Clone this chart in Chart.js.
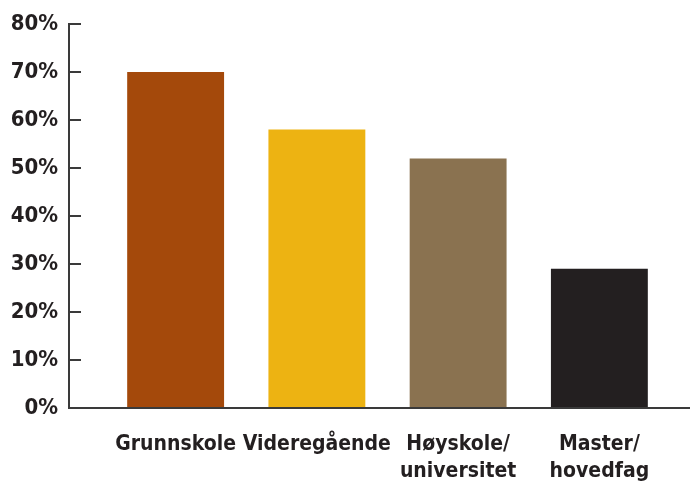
<!DOCTYPE html>
<html>
<head>
<meta charset="utf-8">
<style>
  html, body { margin: 0; padding: 0; background: #ffffff; }
  #wrap { width: 690px; height: 488px; }
</style>
<script src="https://cdn.jsdelivr.net/npm/chart.js@4.4.1/dist/chart.umd.min.js"></script>
</head>
<body>
<div id="wrap"><canvas id="chart" width="690" height="488"></canvas></div>
<script>
// Education level categories (multi-line labels as arrays)
const categories = [
  ['Grunnskole'],
  ['Videregående'],
  ['Høyskole/', 'universitet'],
  ['Master/', 'hovedfag']
];
// Share in percent per category
const shares = [70, 58, 52, 29];
const barColors = ['#A4490B', '#EDB312', '#8A7250', '#231F20'];
// Y axis tick values (percent)
const yTicks = [0, 10, 20, 30, 40, 50, 60, 70, 80];

const FONT = '"DejaVu Sans Condensed", "Liberation Sans Narrow", sans-serif';
const INK = '#231F20';
const AXIS = '#3a3a3a';

// Draws the left axis with inward ticks and a baseline running to the right edge
const axisPlugin = {
  id: 'axisLines',
  afterDatasetsDraw(chart) {
    const ctx = chart.ctx;
    const y = chart.scales.y;
    const axisX = 69;
    ctx.save();
    ctx.strokeStyle = AXIS;
    ctx.lineWidth = 2;
    ctx.beginPath();
    ctx.moveTo(axisX, y.getPixelForValue(80));
    ctx.lineTo(axisX, y.getPixelForValue(0) + 1);
    ctx.stroke();
    yTicks.forEach(v => {
      const py = y.getPixelForValue(v);
      ctx.beginPath();
      ctx.moveTo(axisX - 1, py);
      ctx.lineTo(axisX + 12, py);
      ctx.stroke();
    });
    const by = y.getPixelForValue(0);
    ctx.beginPath();
    ctx.moveTo(axisX - 1, by);
    ctx.lineTo(chart.width, by);
    ctx.stroke();
    ctx.restore();
  }
};

new Chart(document.getElementById('chart'), {
  type: 'bar',
  data: {
    labels: categories,
    datasets: [{
      data: shares,
      backgroundColor: barColors,
      borderWidth: 0,
      categoryPercentage: 1,
      barPercentage: 0.686
    }]
  },
  options: {
    responsive: false,
    animation: false,
    layout: { padding: { top: 24, right: 20, left: 0, bottom: 0 } },
    plugins: { legend: { display: false }, tooltip: { enabled: false } },
    scales: {
      x: {
        // hidden tick marks still reserve the gap between axis and labels
        grid: { display: false, drawTicks: true, tickLength: 23 },
        border: { display: false },
        ticks: {
          color: INK,
          font: { family: FONT, size: 21, weight: 'bold', lineHeight: 1.29 },
          padding: 0,
          maxRotation: 0,
          autoSkip: false
        },
        afterFit(scale) { scale.height = 80; }
      },
      y: {
        min: 0,
        max: 80,
        grid: { display: false, drawTicks: true, tickLength: 47 },
        border: { display: false },
        afterBuildTicks(scale) { scale.ticks = yTicks.map(v => ({ value: v })); },
        afterFit(scale) { scale.width = 105; },
        ticks: {
          color: INK,
          font: { family: FONT, size: 22, weight: 'bold' },
          padding: 0,
          callback: v => v + '%'
        }
      }
    }
  },
  plugins: [axisPlugin]
});
</script>
</body>
</html>
